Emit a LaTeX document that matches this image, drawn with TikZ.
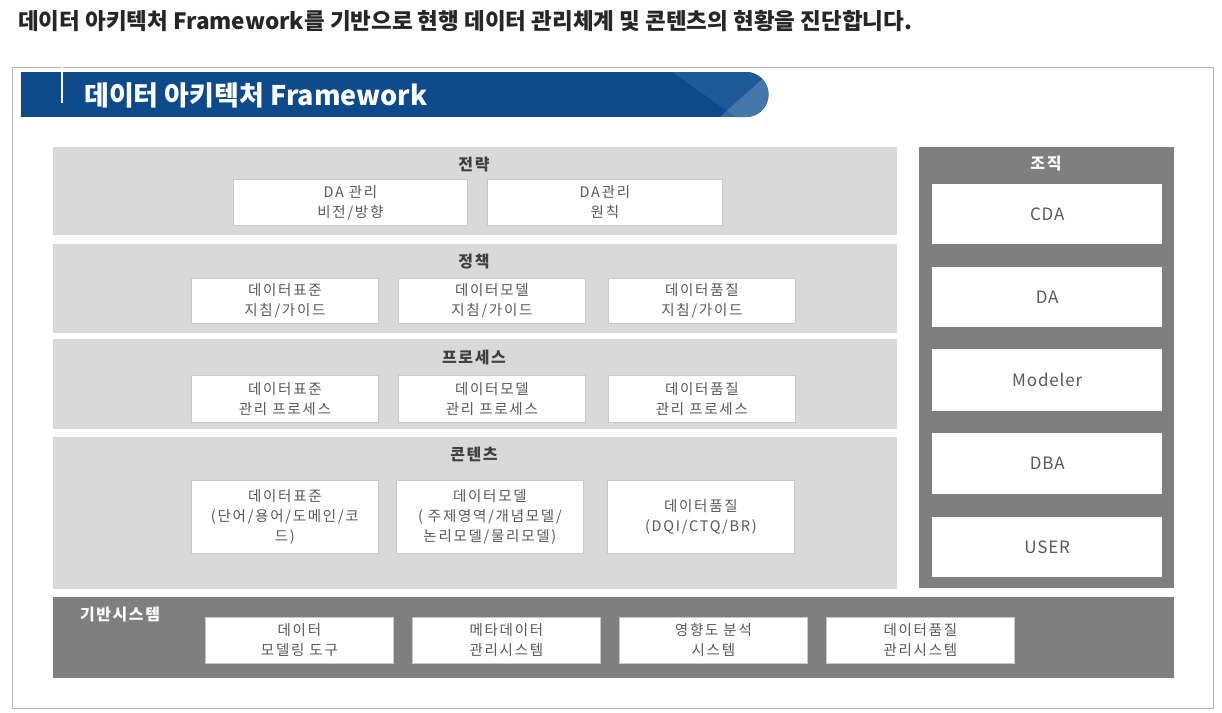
\documentclass[tikz,border=0pt]{standalone}
\usepackage{fontspec}
\setmainfont{Noto Sans CJK KR}
\newfontfamily\boxfont[LetterSpace=12]{Noto Sans CJK KR}
\newfontfamily\titlefont[LetterSpace=10]{Noto Sans CJK KR}
\newfontfamily\orgfont[LetterSpace=5]{Noto Sans CJK KR}
\usetikzlibrary{positioning}
\definecolor{bannerblue}{HTML}{0C4A8B}
\definecolor{bannermid}{HTML}{1C5A98}
\definecolor{layergray}{HTML}{D9D9D9}
\definecolor{darkgray}{HTML}{7F7F7F}
\definecolor{boxtext}{HTML}{595959}
\definecolor{titletext}{HTML}{3F3F3F}
\definecolor{framegray}{HTML}{B4B4B4}
\definecolor{boxedge}{HTML}{C8C8C8}
\tikzset{
  layer/.style={fill=layergray, draw=none, anchor=north west, inner sep=0pt},
  darkpanel/.style={fill=darkgray, draw=none, anchor=north west, inner sep=0pt},
  itembox/.style={fill=white, draw=boxedge, line width=0.8pt, anchor=north west, inner sep=0pt,
     align=center, text=boxtext, font=\boxfont\fontsize{14.5}{20}\selectfont},
  orgbox/.style={fill=white, draw=none, anchor=north west, inner sep=0pt,
     align=center, text=boxtext, font=\orgfont\fontsize{17}{20}\selectfont},
  layertitle/.style={text=titletext, font=\titlefont\bfseries\fontsize{16}{18}\selectfont, inner sep=0pt},
  darktitle/.style={text=white, font=\titlefont\bfseries\fontsize{16}{18}\selectfont, inner sep=0pt},
}
\begin{document}
\begin{tikzpicture}[x=1pt,y=-1pt]
\useasboundingbox[fill=white] (0,0) rectangle (1222,712);
% heading
\node[anchor=west, inner sep=0pt, text=black!85, font=\bfseries\fontsize{22.5}{25}\selectfont] (heading) at (18,21)
  {데이터 아키텍처 Framework를 기반으로 현행 데이터 관리체계 및 콘텐츠의 현황을 진단합니다.};
% frame
\draw[framegray, line width=1pt] (12,67) rectangle (1213,708);
% banner
\begin{scope}
\clip (21,72) -- (746,72) arc[start angle=-90, end angle=90, radius=22.5] -- (21,117) -- cycle;
\fill[bannerblue] (21,72) rectangle (780,117);
\fill[bannermid] (672,72) -- (780,72) -- (780,117) -- (736,117) -- cycle;
\fill[white, opacity=0.18] (720,117) -- (770,72) -- (780,72) -- (780,117) -- cycle;
\end{scope}
\draw[white, line width=2pt] (62,67) -- (62,103);
\node[anchor=west, inner sep=0pt, text=white, font=\bfseries\fontsize{27}{30}\selectfont] (bannertitle) at (84,95)
  {데이터 아키텍처 Framework};
% layer 1
\node[layer, minimum width=844pt, minimum height=88pt] (l1) at (53,147) {};
\node[layertitle] (t1) at (474,165) {전략};
\node[itembox, minimum width=234pt, minimum height=46pt] (b11) at (233,179) {DA 관리\\비전/방향};
\node[itembox, minimum width=235pt, minimum height=46pt] (b12) at (487,179) {DA관리\\원칙};
% layer 2
\node[layer, minimum width=844pt, minimum height=89pt] (l2) at (53,244) {};
\node[layertitle] (t2) at (474,262) {정책};
\node[itembox, minimum width=187pt, minimum height=45pt] (b21) at (191,278) {데이터표준\\지침/가이드};
\node[itembox, minimum width=187pt, minimum height=45pt] (b22) at (398,278) {데이터모델\\지침/가이드};
\node[itembox, minimum width=187pt, minimum height=45pt] (b23) at (608,278) {데이터품질\\지침/가이드};
% layer 3
\node[layer, minimum width=844pt, minimum height=90pt] (l3) at (53,339) {};
\node[layertitle] (t3) at (474,357) {프로세스};
\node[itembox, minimum width=187pt, minimum height=47pt] (b31) at (191,375) {데이터표준\\관리 프로세스};
\node[itembox, minimum width=187pt, minimum height=47pt] (b32) at (398,375) {데이터모델\\관리 프로세스};
\node[itembox, minimum width=187pt, minimum height=47pt] (b33) at (608,375) {데이터품질\\관리 프로세스};
% layer 4
\node[layer, minimum width=844pt, minimum height=152pt] (l4) at (53,437) {};
\node[layertitle] (t4) at (474,454) {콘텐츠};
\node[itembox, minimum width=187pt, minimum height=73pt] (b41) at (191,480) {데이터표준\\(단어/용어/도메인/코\\드)};
\node[itembox, minimum width=187pt, minimum height=73pt] (b42) at (396,480) {데이터모델\\( 주제영역/개념모델/\\논리모델/물리모델)};
\node[itembox, minimum width=187pt, minimum height=73pt] (b43) at (607,480) {데이터품질\\(DQI/CTQ/BR)};
% organisation panel
\node[darkpanel, minimum width=255pt, minimum height=441pt] (org) at (919,147) {};
\node[darktitle] (orgt) at (1046,164) {조직};
\node[orgbox, minimum width=230pt, minimum height=60pt] (o1) at (932,184) {CDA};
\node[orgbox, minimum width=230pt, minimum height=60pt] (o2) at (932,267) {DA};
\node[orgbox, minimum width=230pt, minimum height=62pt] (o3) at (932,349) {Modeler};
\node[orgbox, minimum width=230pt, minimum height=61pt] (o4) at (932,433) {DBA};
\node[orgbox, minimum width=230pt, minimum height=60pt] (o5) at (932,517) {USER};
% base systems
\node[darkpanel, minimum width=1121pt, minimum height=81pt] (base) at (53,597) {};
\node[darktitle] (baset) at (120,615) {기반시스템};
\node[itembox, minimum width=188pt, minimum height=46pt] (s1) at (205,617) {데이터\\모델링 도구};
\node[itembox, minimum width=188pt, minimum height=46pt] (s2) at (412,617) {메타데이터\\관리시스템};
\node[itembox, minimum width=188pt, minimum height=46pt] (s3) at (619,617) {영향도 분석\\시스템};
\node[itembox, minimum width=188pt, minimum height=46pt] (s4) at (826,617) {데이터품질\\관리시스템};
\end{tikzpicture}
\end{document}
